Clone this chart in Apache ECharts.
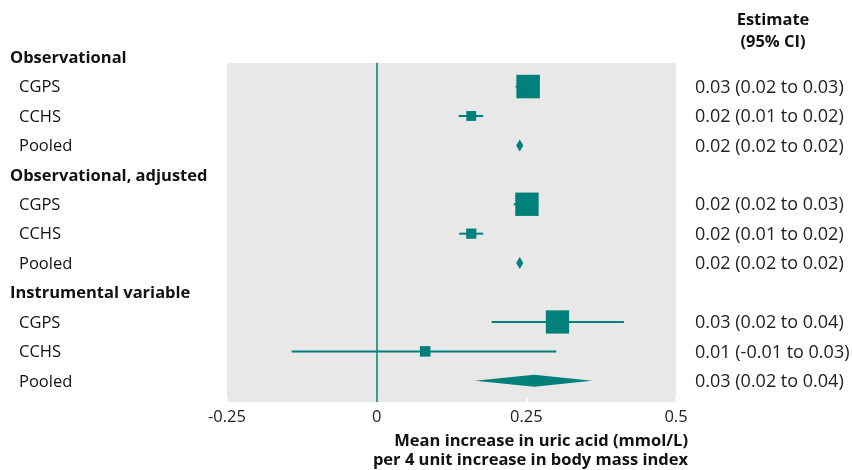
<!DOCTYPE html>
<html>
<head>
<meta charset="utf-8">
<script src="https://cdn.jsdelivr.net/npm/echarts@6/dist/echarts.min.js"></script>
<style>html,body{margin:0;padding:0;background:#fff}#c{width:852px;height:470px}</style>
</head>
<body>
<div id="c"></div>
<script>
// ---- data ----
const rowLabels = ['Observational','CGPS','CCHS','Pooled','Observational, adjusted','CGPS','CCHS','Pooled','Instrumental variable','CGPS','CCHS','Pooled'];
const rowKinds  = ['header','study','study','pooled','header','study','study','pooled','header','study','study','pooled'];
const estimates = [null,0.253,0.158,0.239,null,0.251,0.158,0.239,null,0.302,0.081,0.263];
const ciLow     = [null,0.232,0.137,0.233,null,0.229,0.138,0.233,null,0.192,-0.142,0.164];
const ciHigh    = [null,0.270,0.178,0.245,null,0.270,0.178,0.245,null,0.413,0.300,0.360];
const weights   = [null,85,15,null,null,84,16,null,null,83,17,null];
const estimateText = ['','0.03 (0.02 to 0.03)','0.02 (0.01 to 0.02)','0.02 (0.02 to 0.02)','',
  '0.02 (0.02 to 0.03)','0.02 (0.01 to 0.02)','0.02 (0.02 to 0.02)','',
  '0.03 (0.02 to 0.04)','0.01 (-0.01 to 0.03)','0.03 (0.02 to 0.04)'];
const xTicks = [-0.25, 0, 0.25, 0.5];
const estimateHeader = 'Estimate\n(95% CI)';
const xAxisTitle = 'Mean increase in uric acid (mmol/L)\nper 4 unit increase in body mass index';

// ---- styles ----
const TEAL = '#00807b';
const FONT = '"Open Sans", "Noto Sans", sans-serif';
const FS = 16.5;

const chart = echarts.init(document.getElementById('c'), null, {renderer: 'canvas'});

const forestData = [];
rowKinds.forEach((k, i) => {
  if (k !== 'header') forestData.push([estimates[i], i, ciLow[i], ciHigh[i], weights[i] == null ? 0 : weights[i], k === 'pooled' ? 1 : 0]);
});

const option = {
  animation: false,
  graphic: [
    {type: 'text', x: 773, y: 31, style: {text: estimateHeader, fill: '#111', align: 'center', verticalAlign: 'middle',
      font: 'bold ' + FS + 'px ' + FONT, lineHeight: 22}},
    {type: 'text', x: 688, y: 451, style: {text: xAxisTitle, fill: '#111', align: 'right', verticalAlign: 'middle',
      font: 'bold ' + FS + 'px ' + FONT, lineHeight: 19}}
  ],
  grid: {left: 227, right: 176, top: 63, bottom: 68, show: true, backgroundColor: '#e8e8e8', borderWidth: 0},
  xAxis: {
    type: 'value', min: xTicks[0], max: xTicks[xTicks.length - 1], interval: 0.25,
    axisLine: {show: false},
    axisTick: {show: true, inside: true, length: 5, lineStyle: {color: '#ffffff', width: 1.5}},
    splitLine: {show: false},
    axisLabel: {margin: 7, color: '#222', fontFamily: FONT, fontSize: FS,
      formatter: v => (Math.abs(v) < 1e-9 ? '0' : String(+v.toFixed(2)))}
  },
  yAxis: {type: 'value', inverse: true, min: 0.2, max: 11.72, show: false},
  series: [
    {
      type: 'custom', name: 'forest', clip: false,
      data: forestData, encode: {x: 0, y: 1},
      renderItem: function (params, api) {
        const est = api.value(0), row = api.value(1), lo = api.value(2), hi = api.value(3), w = api.value(4), pooled = api.value(5);
        const c = api.coord([est, row]);
        const pLo = api.coord([lo, row]);
        const pHi = api.coord([hi, row]);
        if (pooled) {
          const h = 6;
          return {type: 'polygon', shape: {points: [[pLo[0], c[1]], [c[0], c[1] - h], [pHi[0], c[1]], [c[0], c[1] + h]]},
                  style: {fill: TEAL}};
        }
        const s = 2.55 * Math.sqrt(w);
        return {type: 'group', children: [
          {type: 'line', shape: {x1: pLo[0], y1: c[1], x2: pHi[0], y2: c[1]}, style: {stroke: TEAL, lineWidth: 2}},
          {type: 'rect', shape: {x: c[0] - s / 2, y: c[1] - s / 2, width: s, height: s}, style: {fill: TEAL}}
        ]};
      },
      markLine: {silent: true, symbol: 'none', label: {show: false},
        lineStyle: {color: TEAL, width: 1.5, type: 'solid'}, data: [{xAxis: 0}]},
      z: 3
    },
    {
      type: 'custom', name: 'labels', clip: false,
      data: rowLabels.map((l, i) => [xTicks[0], i]), encode: {x: 0, y: 1},
      renderItem: function (params, api) {
        const i = params.dataIndex;
        const y = api.coord([0, api.value(1)])[1];
        const header = rowKinds[i] === 'header';
        return {type: 'text', style: {x: header ? 10 : 19, y: y + 1, text: rowLabels[i], fill: '#111',
          font: (header ? 'bold ' : '') + FS + 'px ' + FONT, align: 'left', verticalAlign: 'middle'}};
      }
    },
    {
      type: 'custom', name: 'estimates', clip: false,
      data: estimateText.map((t, i) => [xTicks[0], i]), encode: {x: 0, y: 1},
      renderItem: function (params, api) {
        const i = params.dataIndex;
        const y = api.coord([0, api.value(1)])[1];
        return {type: 'text', style: {x: 695, y: y + 1, text: estimateText[i], fill: '#222',
          font: '18px ' + FONT, align: 'left', verticalAlign: 'middle'}};
      }
    }
  ]
};
chart.setOption(option);
</script>
</body>
</html>
